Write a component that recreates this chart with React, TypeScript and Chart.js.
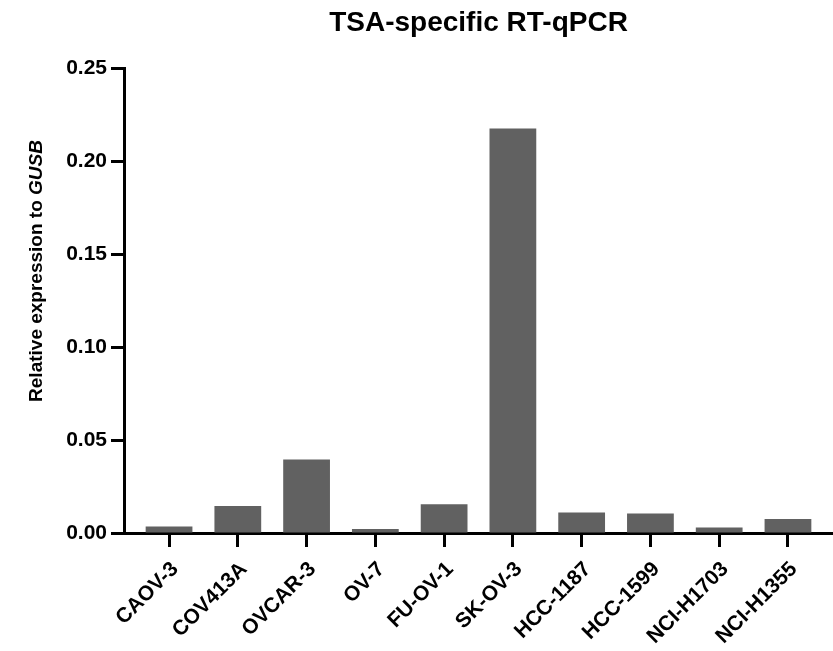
import React, { useEffect, useRef } from "react";
import { Chart, registerables } from "chart.js";

Chart.register(...registerables);

const categories = ["CAOV-3", "COV413A", "OVCAR-3", "OV-7", "FU-OV-1", "SK-OV-3", "HCC-1187", "HCC-1599", "NCI-H1703", "NCI-H1355"];
const values = [0.0035, 0.0145, 0.0395, 0.0022, 0.0155, 0.2175, 0.011, 0.0105, 0.003, 0.0075];
const yTicks = [0, 0.05, 0.1, 0.15, 0.2, 0.25];
const titleText = "TSA-specific RT-qPCR";
const yTitleMain = "Relative expression to ";
const yTitleItalic = "GUSB";

const FONT = "'Liberation Sans', Arial, Helvetica, sans-serif";

const textPlugin = {
  id: "customText",
  afterDraw(chart: any) {
    const ctx = chart.ctx;
    const ca = chart.chartArea;
    ctx.save();
    ctx.fillStyle = "#000";
    ctx.font = `bold 28px ${FONT}`;
    ctx.textAlign = "center";
    ctx.textBaseline = "middle";
    ctx.fillText(titleText, (ca.left + ca.right) / 2, 23);
    ctx.restore();

    ctx.save();
    ctx.translate(37, 271);
    ctx.rotate(-Math.PI / 2);
    ctx.fillStyle = "#000";
    ctx.textBaseline = "middle";
    ctx.textAlign = "left";
    const f1 = `bold 19px ${FONT}`;
    const f2 = `italic bold 19px ${FONT}`;
    ctx.font = f1;
    const w1 = ctx.measureText(yTitleMain).width;
    ctx.font = f2;
    const w2 = ctx.measureText(yTitleItalic).width;
    const start = -(w1 + w2) / 2;
    ctx.font = f1;
    ctx.fillText(yTitleMain, start, 0);
    ctx.font = f2;
    ctx.fillText(yTitleItalic, start + w1, 0);
    ctx.restore();
  },
};

export default function App() {
  const ref = useRef<HTMLCanvasElement | null>(null);
  useEffect(() => {
    if (!ref.current) return;
    const chart = new Chart(ref.current, {
      type: "bar",
      data: {
        datasets: [
          {
            data: values.map((v, i) => ({ x: i, y: v })),
            backgroundColor: "#616161",
            borderWidth: 0,
            barPercentage: 0.68,
            categoryPercentage: 1,
          },
        ],
      },
      options: {
        responsive: false,
        animation: false,
        layout: { padding: { top: 68, left: 0, right: 0, bottom: 0 } },
        plugins: {
          legend: { display: false },
          tooltip: { enabled: false },
          title: { display: false },
        },
        scales: {
          x: {
            type: "linear",
            offset: false,
            min: -0.655,
            max: categories.length - 1 + 0.655,
            afterFit: (s: any) => {
              s.height = 118;
            },
            afterBuildTicks: (s: any) => {
              s.ticks = categories.map((_, i) => ({ value: i }));
            },
            border: { display: true, color: "#000", width: 3 },
            grid: {
              display: true,
              offset: false,
              drawOnChartArea: false,
              drawTicks: true,
              tickLength: 14,
              tickWidth: 3,
              tickColor: "#000",
            },
            ticks: {
              autoSkip: false,
              minRotation: 45,
              maxRotation: 45,
              padding: 10,
              labelOffset: 6,
              color: "#000",
              font: { family: FONT, size: 21, weight: "bold" },
              callback: (v: any) => (Number.isInteger(v) && categories[v] ? categories[v] : ""),
            },
          },
          y: {
            min: 0,
            max: 0.25,
            afterFit: (s: any) => {
              s.width = 124;
            },
            afterBuildTicks: (s: any) => {
              s.ticks = yTicks.map((v) => ({ value: v }));
            },
            border: { display: true, color: "#000", width: 3 },
            grid: {
              display: true,
              drawOnChartArea: false,
              drawTicks: true,
              tickLength: 13,
              tickWidth: 3,
              tickColor: "#000",
            },
            ticks: {
              padding: 4,
              color: "#000",
              font: { family: FONT, size: 21, weight: "bold" },
              callback: (v: any) => Number(v).toFixed(2),
            },
          },
        },
      },
      plugins: [textPlugin],
    });
    return () => chart.destroy();
  }, []);
  return (
    <div style={{ position: "absolute", left: 0, top: 0, width: 833, height: 651, background: "#fff" }}>
      <canvas ref={ref} width={833} height={651} />
    </div>
  );
}
